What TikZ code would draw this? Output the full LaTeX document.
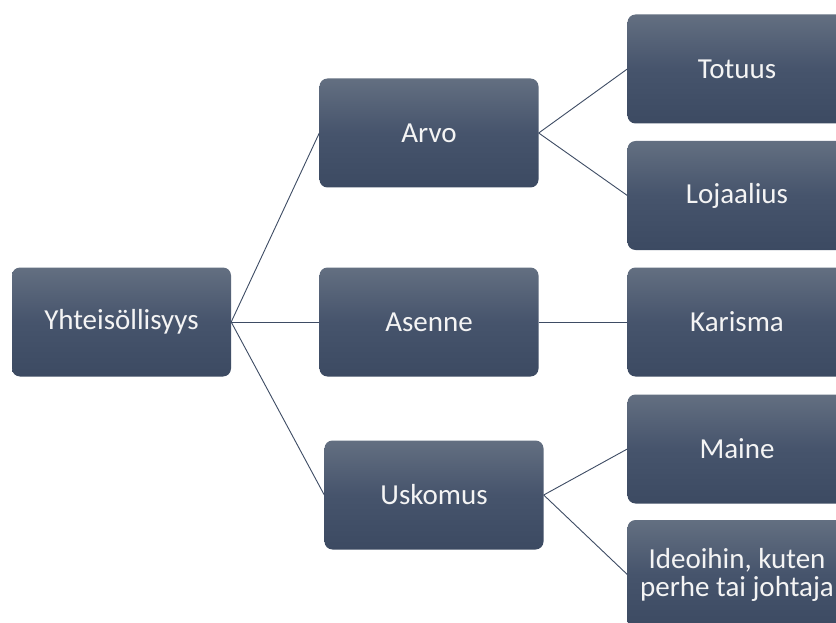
\documentclass[tikz,border=0pt]{standalone}
\usepackage{fontspec}
\setmainfont{Carlito}
\definecolor{boxtop}{HTML}{636F81}
\definecolor{boxmid}{HTML}{46546C}
\definecolor{boxbot}{HTML}{3C4A62}
\definecolor{linec}{HTML}{3E4C64}
\definecolor{txt}{HTML}{F4F4F4}
\begin{document}
\begin{tikzpicture}[x=1pt,y=-1pt,
  box/.style={rounded corners=8pt, minimum width=219pt, minimum height=109pt,
    top color=boxtop, bottom color=boxbot, middle color=boxmid, draw=none,
    text=txt, font=\fontsize{29}{28}\selectfont, align=center, inner sep=0pt},
  conn/.style={draw=linec, line width=0.9pt}]
\clip (0,0) rectangle (836,623);
\fill[white] (0,0) rectangle (836,623);
\node[box] (y) at (121.5,322) {Yhteisöllisyys};
\node[box] (arvo) at (429,133) {Arvo};
\node[box] (asenne) at (429,322) {Asenne};
\node[box] (usk) at (434,495) {Uskomus};
\node[box] (tot) at (737,69) {Totuus};
\node[box] (loj) at (737,195.5) {Lojaalius};
\node[box] (kar) at (737,322) {Karisma};
\node[box] (mai) at (737,449) {Maine};
\node[box] (ide) at (737,574.5) {Ideoihin, kuten\\perhe tai johtaja};
\draw[conn] (y.east) -- (arvo.west);
\draw[conn] (y.east) -- (asenne.west);
\draw[conn] (y.east) -- (usk.west);
\draw[conn] (arvo.east) -- (tot.west);
\draw[conn] (arvo.east) -- (loj.west);
\draw[conn] (asenne.east) -- (kar.west);
\draw[conn] (usk.east) -- (mai.west);
\draw[conn] (usk.east) -- (ide.west);
\end{tikzpicture}
\end{document}
